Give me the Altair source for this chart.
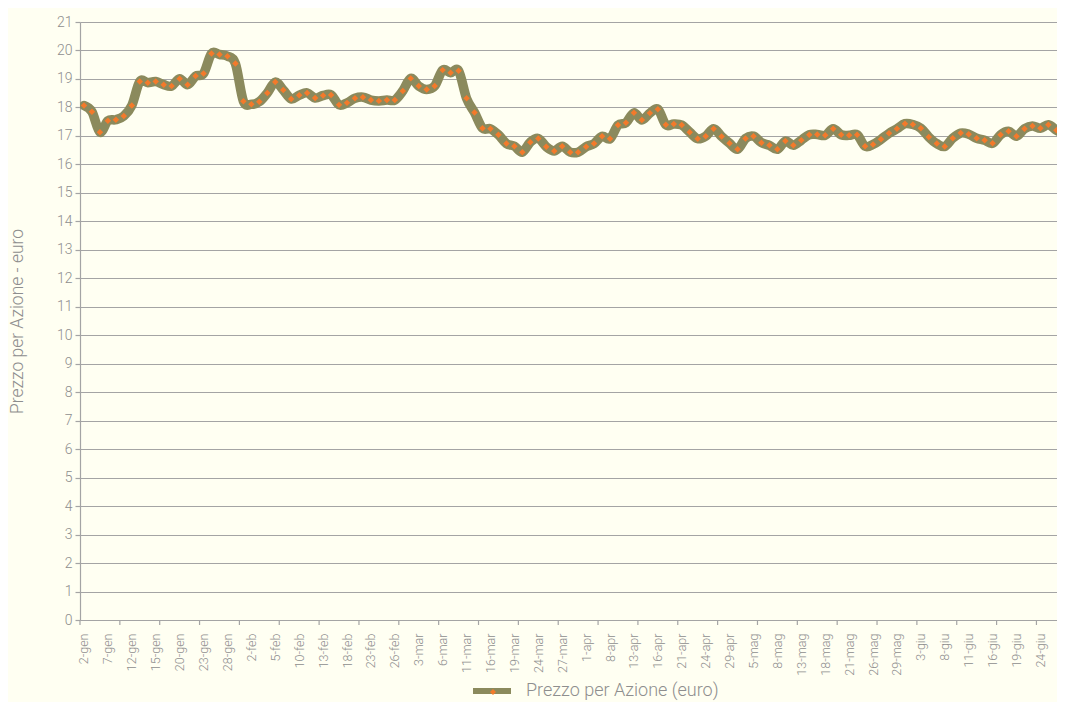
import altair as alt
import pandas as pd

tick_labels = [
    "2-gen", "7-gen", "12-gen", "15-gen", "20-gen", "23-gen", "28-gen",
    "2-feb", "5-feb", "10-feb", "13-feb", "18-feb", "23-feb", "26-feb",
    "3-mar", "6-mar", "11-mar", "16-mar", "19-mar", "24-mar", "27-mar",
    "1-apr", "8-apr", "13-apr", "16-apr", "21-apr", "24-apr", "29-apr",
    "5-mag", "8-mag", "13-mag", "18-mag", "21-mag", "26-mag", "29-mag",
    "3-giu", "8-giu", "11-giu", "16-giu", "19-giu", "24-giu", "29-giu",
]

prezzo = [
    18.07, 17.85, 17.13, 17.53, 17.57, 17.70, 18.07, 18.91, 18.87, 18.91,
    18.80, 18.75, 19.01, 18.80, 19.10, 19.19, 19.89, 19.86, 19.80, 19.54,
    18.22, 18.11, 18.20, 18.51, 18.89,
    18.61, 18.30, 18.43, 18.51, 18.33, 18.42, 18.44, 18.09, 18.16, 18.32,
    18.36, 18.26, 18.23, 18.26, 18.26, 18.58, 19.02, 18.75, 18.63, 18.75,
    19.31, 19.22, 19.29, 18.32, 17.82,
    17.27, 17.25, 17.04, 16.73, 16.64, 16.43, 16.78, 16.91, 16.62, 16.47,
    16.64, 16.43, 16.43, 16.62, 16.73, 16.99, 16.90, 17.38, 17.46, 17.81,
    17.56, 17.80, 17.94, 17.39, 17.42,
    17.38, 17.13, 16.90, 16.99, 17.25, 16.98, 16.74, 16.53, 16.91, 16.99,
    16.76, 16.67, 16.53, 16.82, 16.67, 16.85, 17.04, 17.05, 17.02, 17.25,
    17.04, 17.02, 17.04, 16.64, 16.70,
    16.88, 17.09, 17.25, 17.43, 17.40, 17.27, 16.96, 16.73, 16.63, 16.92,
    17.10, 17.06, 16.92, 16.85, 16.74, 17.04, 17.16, 16.99, 17.25, 17.35,
    17.27, 17.39, 17.20, 17.04,
]

serie_name = "Prezzo per Azione (euro)"
y_ticks = list(range(0, 22))

df = pd.DataFrame({"idx": list(range(len(prezzo))), "prezzo": prezzo, "serie": serie_name})
label_values = list(range(0, len(prezzo), 3))
label_js = "[" + ",".join("'%s'" % s for s in tick_labels) + "]"
label_expr = label_js + "[round(datum.value / 3)]"

tick_df = pd.DataFrame({"pos": [k * 5 - 0.5 for k in range(26)]})

OLIVE = "#8B8A5D"
ORANGE = "#F37A2B"
GRID = "#A4A4A4"
TXT = "#8E8E8E"
FONT = "Roboto"

xscale = alt.Scale(domain=[-0.5, 122.08], nice=False, zero=False)
yscale = alt.Scale(domain=[0, 21], nice=False, zero=True)

x_axis = alt.Axis(
    values=label_values, labelExpr=label_expr, labelAngle=-90, ticks=False,
    grid=False, labelPadding=13, labelFontSize=12.5, labelColor=TXT, labelFont=FONT,
    labelFontWeight=300, domainColor=GRID, domainWidth=1.2, title=None,
    labelOverlap=False, labelBound=False, labelFlush=False)
y_axis = alt.Axis(
    values=y_ticks, title="Prezzo per Azione - euro", titleFont=FONT,
    titleFontWeight=300, titleFontSize=17.5, titleColor=TXT, titleX=-63, titleY=299,
    titleBaseline="middle", titleAlign="center", titleAngle=270,
    labelFontSize=14, labelColor=TXT, labelFont=FONT, labelFontWeight=300,
    labelPadding=3, labelOverlap=False, tickSize=5, tickColor=GRID, tickWidth=1.2,
    grid=True, gridColor=GRID, gridWidth=1.2, domainColor=GRID, domainWidth=1.2)

line = alt.Chart(df).mark_line(
    interpolate="cardinal", strokeWidth=9.5, strokeCap="round", strokeJoin="round", clip=True
).encode(
    x=alt.X("idx:Q", scale=xscale, axis=x_axis),
    y=alt.Y("prezzo:Q", scale=yscale, axis=y_axis),
    color=alt.Color("serie:N", scale=alt.Scale(range=[OLIVE]), legend=alt.Legend(
        orient="none", legendX=390, legendY=647, title=None, symbolType="stroke",
        symbolSize=1444, symbolStrokeWidth=6, labelFontSize=18, labelColor=TXT,
        labelFont=FONT, labelFontWeight=300, labelOffset=12, labelLimit=0, padding=0)),
)

points = alt.Chart(df).mark_point(
    filled=True, shape="diamond", size=42, opacity=1, clip=True
).encode(
    x=alt.X("idx:Q", scale=xscale, axis=x_axis),
    y=alt.Y("prezzo:Q", scale=yscale, axis=y_axis),
    fill=alt.Fill("serie:N", scale=alt.Scale(range=[ORANGE]), legend=alt.Legend(
        orient="none", legendX=408, legendY=665, title=None, symbolType="diamond",
        symbolSize=36, symbolStrokeWidth=0, labelExpr="''", padding=0)),
)

xticks = alt.Chart(tick_df).mark_rule(color=GRID, strokeWidth=1.2).encode(
    x=alt.X("pos:Q", scale=xscale, axis=x_axis),
    y=alt.value(598),
    y2=alt.value(603),
)

chart = alt.layer(line, xticks, points).properties(
    width=977,
    height=598,
    autosize=alt.AutoSizeParams(type="none"),
    padding={"left": 72, "top": 14, "right": 0, "bottom": 82},
    background="#FFFFF2",
).configure_view(stroke=None)

chart.save("out.html", embed_options={"renderer": "svg", "actions": False})
